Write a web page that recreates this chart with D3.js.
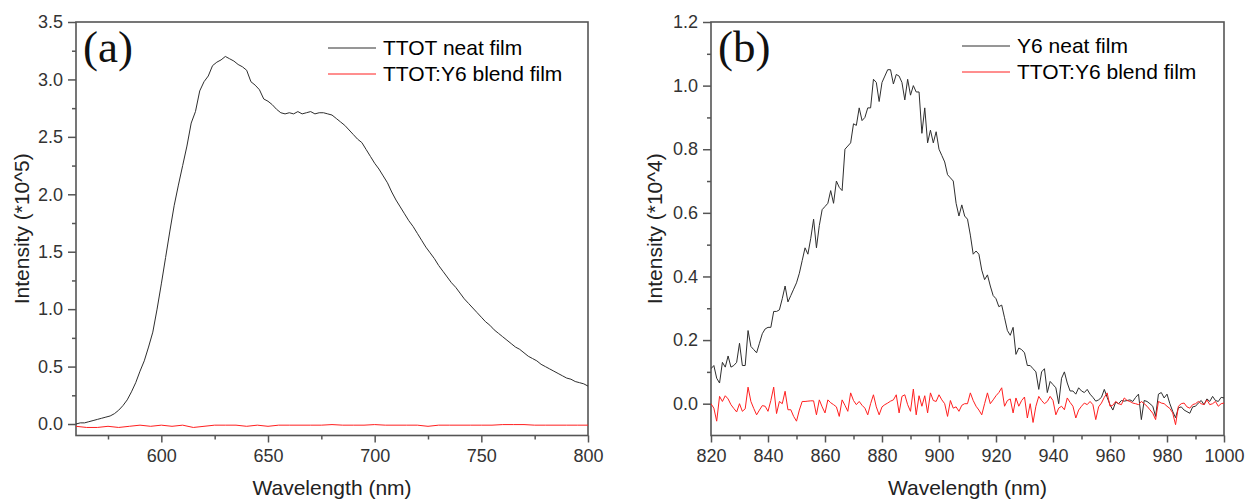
<!DOCTYPE html>
<html>
<head>
<meta charset="utf-8">
<script src="https://cdn.jsdelivr.net/npm/d3@7"></script>
<style>
  body { margin: 0; background: #fff; }
  svg { display: block; font-family: "Liberation Sans", Arial, sans-serif; }
</style>
</head>
<body>
<svg id="chart" width="1246" height="500"></svg>
<script>
// ---- data ----
// panel (a): TTOT neat film, 560..800 nm every 2 nm, in units of 10^5
const ttotNeat = [
  0.00,0.01,0.01,0.02,0.03,0.04,0.05,0.06,0.07,0.09,
  0.12,0.16,0.21,0.28,0.36,0.46,0.55,0.67,0.80,1.00,
  1.22,1.45,1.68,1.90,2.08,2.25,2.42,2.62,2.72,2.90,
  2.98,3.03,3.12,3.15,3.17,3.20,3.18,3.16,3.13,3.11,
  3.08,2.98,2.95,2.91,2.83,2.81,2.78,2.74,2.71,2.70,
  2.71,2.70,2.72,2.70,2.71,2.72,2.70,2.71,2.71,2.70,
  2.69,2.66,2.63,2.60,2.56,2.52,2.48,2.45,2.39,2.33,
  2.27,2.22,2.16,2.10,2.02,1.95,1.89,1.83,1.77,1.72,
  1.66,1.60,1.54,1.49,1.44,1.38,1.33,1.28,1.23,1.19,
  1.14,1.09,1.05,1.01,0.97,0.93,0.89,0.86,0.82,0.79,
  0.76,0.73,0.70,0.67,0.65,0.62,0.59,0.57,0.55,0.52,
  0.50,0.48,0.46,0.44,0.42,0.40,0.39,0.37,0.36,0.35,
  0.33
];
// panel (a): TTOT:Y6 blend film, 560..800 nm every 5 nm
const ttotBlend = [
  -0.02,-0.03,-0.03,-0.02,-0.03,-0.02,-0.01,-0.02,-0.01,-0.02,
  -0.01,-0.03,-0.02,-0.01,-0.01,-0.01,-0.02,-0.01,-0.02,-0.01,
  -0.01,-0.01,-0.01,-0.01,-0.005,-0.01,-0.01,-0.01,-0.005,-0.01,
  -0.01,-0.01,-0.01,-0.02,-0.01,-0.01,-0.01,-0.01,-0.01,-0.01,
  -0.005,-0.005,-0.005,-0.01,-0.01,-0.01,-0.01,-0.01,-0.01
];
// panel (b): Y6 neat film, 820..1000 nm every 1 nm, in units of 10^4
const y6Neat = [
  0.11,0.12,0.08,0.065,0.13,0.115,0.15,0.115,0.12,0.13,
  0.19,0.12,0.12,0.23,0.18,0.17,0.16,0.19,0.22,0.235,
  0.24,0.24,0.29,0.29,0.295,0.33,0.37,0.32,0.34,0.36,
  0.38,0.41,0.45,0.49,0.47,0.52,0.58,0.49,0.56,0.61,
  0.62,0.63,0.67,0.63,0.70,0.68,0.67,0.80,0.81,0.82,
  0.88,0.875,0.93,0.89,0.90,0.93,0.93,1.02,1.01,0.95,
  1.01,1.03,1.05,1.05,1.005,1.035,1.03,1.01,0.955,1.02,
  0.97,1.0,0.98,0.98,0.85,0.93,0.82,0.86,0.82,0.855,
  0.80,0.78,0.76,0.72,0.71,0.70,0.63,0.59,0.625,0.59,
  0.58,0.53,0.47,0.48,0.47,0.42,0.39,0.405,0.37,0.34,
  0.33,0.305,0.31,0.27,0.23,0.215,0.24,0.155,0.175,0.17,
  0.16,0.12,0.12,0.11,0.10,0.045,0.10,0.11,0.035,0.07,
  0.06,0.05,0.0,0.08,0.10,0.065,0.04,0.04,0.03,0.05,
  0.04,0.035,0.045,0.03,0.02,0.008,0.012,0.02,0.045,0.02,
  -0.003,-0.02,0.005,0.0,0.01,0.008,0.01,0.012,0.007,0.02,
  0.03,-0.05,0.01,0.007,0.0,-0.008,-0.04,0.03,0.035,0.018,
  0.03,0.0,-0.024,-0.044,-0.013,-0.01,-0.02,-0.025,-0.03,-0.01,
  -0.008,0.002,0.01,-0.003,0.015,0.007,0.023,0.01,0.007,0.02,
  0.018
];
// panel (b): TTOT:Y6 blend film, 820..1000 nm every 1 nm
const y6Blend = [
  0.0,-0.014,-0.055,0.023,0.007,0.025,0.015,-0.003,-0.015,-0.026,
  0.0,-0.024,-0.016,0.052,0.007,-0.015,-0.035,-0.02,-0.006,-0.008,
  -0.024,0.01,0.052,-0.031,0.007,0.0,0.039,-0.019,-0.019,-0.04,
  -0.055,-0.02,0.007,0.007,0.008,0.009,0.009,-0.035,0.012,-0.01,
  -0.029,0.012,0.003,-0.003,-0.01,-0.04,0.012,-0.005,-0.024,0.034,
  0.01,-0.003,0.007,-0.005,-0.014,-0.035,0.0,0.028,-0.01,-0.035,
  -0.01,-0.003,0.002,0.008,0.012,0.028,-0.029,0.023,0.028,-0.003,
  -0.024,0.046,-0.035,0.025,-0.008,0.025,-0.029,0.034,0.01,0.007,
  0.028,0.012,0.0,-0.04,0.01,-0.014,-0.01,-0.024,-0.005,0.0,
  0.0,0.034,0.01,-0.008,-0.02,-0.035,0.0,0.034,0.0,0.012,
  0.025,0.035,0.05,-0.008,0.01,0.015,-0.029,0.018,-0.008,0.01,
  0.021,-0.045,0.0,-0.059,-0.008,0.023,0.01,0.0,0.007,0.023,
  0.01,-0.035,-0.014,-0.008,-0.019,0.018,0.004,-0.008,-0.045,-0.02,
  -0.008,0.002,-0.003,0.007,-0.003,-0.05,-0.01,0.002,0.02,0.034,
  -0.008,-0.005,0.007,0.0,-0.003,0.018,0.01,0.007,0.002,0.0,
  -0.003,0.007,0.0,-0.008,-0.019,-0.03,-0.05,0.007,0.002,0.0,
  -0.008,-0.015,-0.029,-0.066,-0.008,0.0,0.002,-0.01,-0.014,-0.003,
  0.0,0.007,0.0,-0.003,0.012,-0.003,0.0,0.007,-0.008,0.0,
  0.002
];

// tick values
const xTicksA = [600, 650, 700, 750, 800];
const xMinorA = [575, 625, 675, 725, 775];
const yTicksA = [0, 0.5, 1.0, 1.5, 2.0, 2.5, 3.0, 3.5];
const yMinorA = [0.25, 0.75, 1.25, 1.75, 2.25, 2.75, 3.25];
const xTicksB = [820, 840, 860, 880, 900, 920, 940, 960, 980, 1000];
const xMinorB = [830, 850, 870, 890, 910, 930, 950, 970, 990];
const yTicksB = [0, 0.2, 0.4, 0.6, 0.8, 1.0, 1.2];
const yMinorB = [0.1, 0.3, 0.5, 0.7, 0.9, 1.1];

const seriesA = [
  {name: "TTOT neat film", color: "#2e2e2e", x: d3.range(560, 801, 2), y: ttotNeat},
  {name: "TTOT:Y6 blend film", color: "#ff1f1f", x: d3.range(560, 801, 5), y: ttotBlend}
];
const seriesB = [
  {name: "Y6 neat film", color: "#2e2e2e", x: d3.range(820, 1001, 1), y: y6Neat},
  {name: "TTOT:Y6 blend film", color: "#ff1f1f", x: d3.range(820, 1001, 1), y: y6Blend}
];

const svg = d3.select("#chart");
const axisColor = "#555";

function drawPanel(cfg) {
  const x = d3.scaleLinear().domain(cfg.xDomain).range([cfg.left, cfg.right]);
  const y = d3.scaleLinear().domain(cfg.yDomain).range([cfg.bottom, cfg.top]);
  const g = svg.append("g");

  // clip for data lines
  g.append("clipPath").attr("id", "clip" + cfg.id)
    .append("rect").attr("x", cfg.left).attr("y", cfg.top)
    .attr("width", cfg.right - cfg.left).attr("height", cfg.bottom - cfg.top);

  // axes (major + minor ticks)
  const xAx = g.append("g").attr("transform", "translate(0," + cfg.bottom + ")")
    .call(d3.axisBottom(x).tickValues(cfg.xTicks).tickSize(7).tickPadding(7).tickSizeOuter(0).tickFormat(d3.format("d")));
  const xMin = g.append("g").attr("transform", "translate(0," + cfg.bottom + ")")
    .call(d3.axisBottom(x).tickValues(cfg.xMinor).tickSize(4).tickFormat(""));
  const yAx = g.append("g").attr("transform", "translate(" + cfg.left + ",0)")
    .call(d3.axisLeft(y).tickValues(cfg.yTicks).tickSize(8).tickPadding(5).tickSizeOuter(0).tickFormat(d3.format(".1f")));
  const yMin = g.append("g").attr("transform", "translate(" + cfg.left + ",0)")
    .call(d3.axisLeft(y).tickValues(cfg.yMinor).tickSize(4).tickFormat(""));

  [xAx, xMin, yAx, yMin].forEach(function(a) {
    a.select(".domain").remove();
    a.selectAll("line").attr("stroke", axisColor).attr("stroke-width", 1.5);
    a.selectAll("text").attr("fill", "#333").style("font-size", "18px")
      .style("font-family", "'Liberation Sans', Arial, sans-serif");
  });

  // frame box
  g.append("rect").attr("x", cfg.left).attr("y", cfg.top)
    .attr("width", cfg.right - cfg.left).attr("height", cfg.bottom - cfg.top)
    .attr("fill", "none").attr("stroke", axisColor).attr("stroke-width", 1.6);

  // data lines
  const line = d3.line().x(d => x(d[0])).y(d => y(d[1]));
  const lines = g.append("g").attr("clip-path", "url(#clip" + cfg.id + ")");
  cfg.series.forEach(function(s) {
    lines.append("path")
      .datum(s.x.map((v, i) => [v, s.y[i]]))
      .attr("d", line)
      .attr("fill", "none")
      .attr("stroke", s.color)
      .attr("stroke-width", 1);
  });

  // axis titles
  g.append("text")
    .attr("x", (cfg.left + cfg.right) / 2).attr("y", 495)
    .attr("text-anchor", "middle").attr("fill", "#222")
    .style("font-size", "21px").text("Wavelength (nm)");
  g.append("text")
    .attr("transform", "translate(" + cfg.yTitleX + "," + ((cfg.top + cfg.bottom) / 2) + ") rotate(-90)")
    .attr("text-anchor", "middle").attr("fill", "#222")
    .style("font-size", "21px").text(cfg.yTitle);

  // panel tag
  g.append("text")
    .attr("x", cfg.left + 7).attr("y", 62)
    .style("font-family", "'Liberation Serif', 'Times New Roman', serif")
    .style("font-size", "45px").attr("fill", "#111")
    .text(cfg.tag);

  // legend
  const leg = g.append("g");
  cfg.series.forEach(function(s, i) {
    const ly = cfg.legendY + i * 26;
    leg.append("line")
      .attr("x1", cfg.legendX).attr("x2", cfg.legendX + 48)
      .attr("y1", ly).attr("y2", ly)
      .attr("stroke", s.color).attr("stroke-width", 1);
    leg.append("text")
      .attr("x", cfg.legendX + 55).attr("y", ly + 7)
      .attr("fill", "#000").style("font-size", "21px")
      .text(s.name);
  });
}

drawPanel({
  id: "a", tag: "(a)",
  left: 76, right: 588, top: 22, bottom: 435.5,
  xDomain: [560, 800], yDomain: [-0.1, 3.5],
  xTicks: xTicksA, xMinor: xMinorA, yTicks: yTicksA, yMinor: yMinorA,
  series: seriesA, yTitle: "Intensity (*10^5)", yTitleX: 29,
  legendX: 328, legendY: 48
});

drawPanel({
  id: "b", tag: "(b)",
  left: 711, right: 1224, top: 22, bottom: 435.5,
  xDomain: [820, 1000], yDomain: [-0.1, 1.2],
  xTicks: xTicksB, xMinor: xMinorB, yTicks: yTicksB, yMinor: yMinorB,
  series: seriesB, yTitle: "Intensity (*10^4)", yTitleX: 662,
  legendX: 962, legendY: 46
});
</script>
</body>
</html>
